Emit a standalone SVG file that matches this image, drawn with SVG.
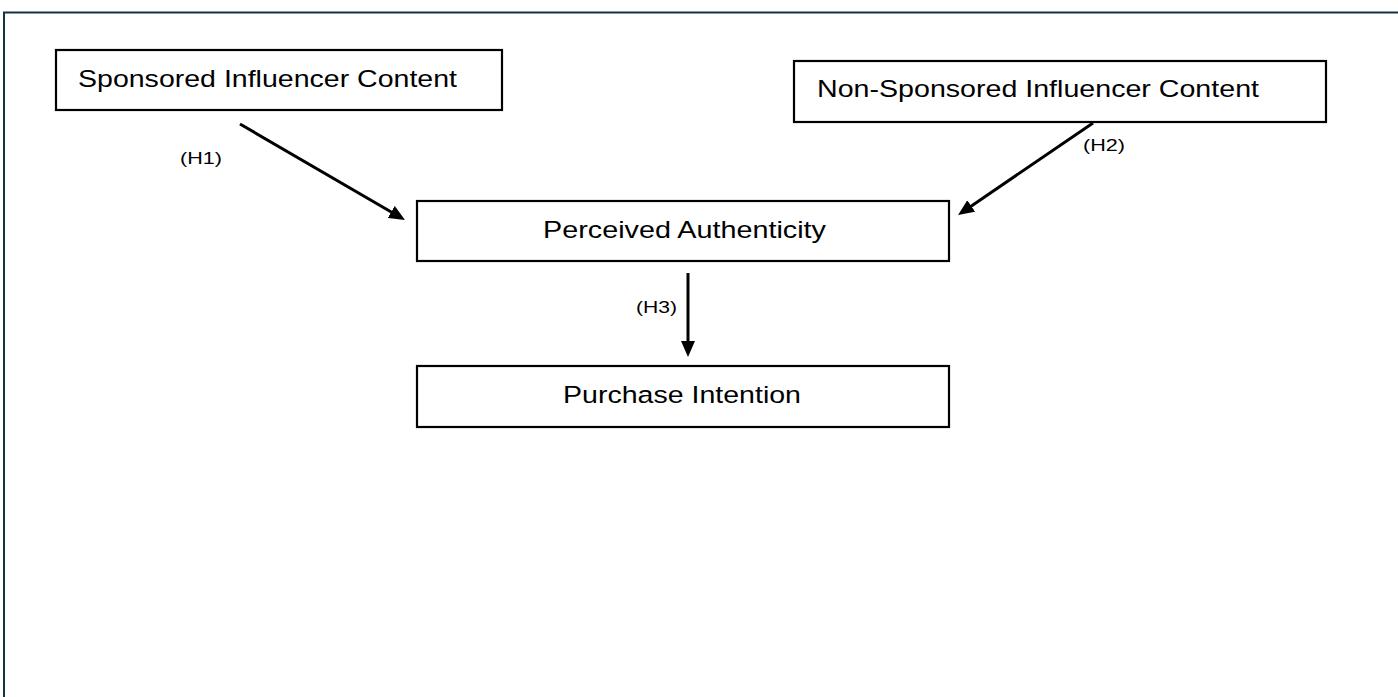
<svg xmlns="http://www.w3.org/2000/svg" width="1398" height="697" viewBox="0 0 1398 697">
<style>
.box{fill:#fff;stroke:#000;stroke-width:2.2}
.lbl{font-family:"Liberation Sans",Arial,sans-serif;font-size:24.5px;fill:#000}
.h{font-family:"Liberation Sans",Arial,sans-serif;font-size:16.5px;fill:#000}
.conn{stroke:#000;stroke-width:3;fill:none}
</style>
<defs>
<marker id="arr" viewBox="0 0 16 14" refX="6" refY="7" markerWidth="16" markerHeight="14" markerUnits="userSpaceOnUse" orient="auto">
<path d="M0,0 L16,7 L0,14 z" fill="#000"/>
</marker>
</defs>
<rect width="1398" height="697" fill="#fff"/>
<rect x="4" y="12.5" width="1500" height="800" fill="none" stroke="#163143" stroke-width="2"/>
<g id="n-sponsored">
<rect class="box" x="56" y="50" width="446" height="60"/>
<text class="lbl" x="78" y="87" textLength="379" lengthAdjust="spacingAndGlyphs">Sponsored Influencer Content</text>
</g>
<g id="n-nonsponsored">
<rect class="box" x="794" y="61" width="532" height="61"/>
<text class="lbl" x="817" y="97" textLength="442" lengthAdjust="spacingAndGlyphs">Non-Sponsored Influencer Content</text>
</g>
<g id="n-authenticity">
<rect class="box" x="417" y="201" width="532" height="60"/>
<text class="lbl" x="543" y="238" textLength="283" lengthAdjust="spacingAndGlyphs">Perceived Authenticity</text>
</g>
<g id="n-purchase">
<rect class="box" x="417" y="366" width="532" height="61"/>
<text class="lbl" x="563" y="403" textLength="238" lengthAdjust="spacingAndGlyphs">Purchase Intention</text>
</g>
<g id="connectors">
<line class="conn" x1="240" y1="124" x2="396.4" y2="215" marker-end="url(#arr)"/>
<line class="conn" x1="1093" y1="123" x2="966.3" y2="209.4" marker-end="url(#arr)"/>
<line class="conn" x1="688" y1="273" x2="688" y2="347" marker-end="url(#arr)"/>
<text class="h" x="180" y="164" textLength="42" lengthAdjust="spacingAndGlyphs">(H1)</text>
<text class="h" x="1083" y="151" textLength="42" lengthAdjust="spacingAndGlyphs">(H2)</text>
<text class="h" x="636" y="313" textLength="41" lengthAdjust="spacingAndGlyphs">(H3)</text>
</g>
</svg>
